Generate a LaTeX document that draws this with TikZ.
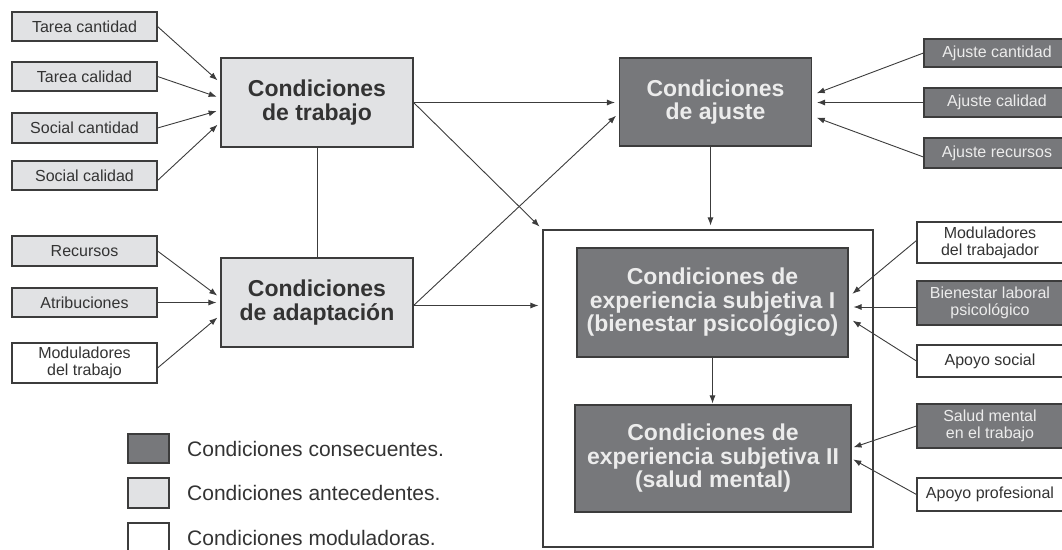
\documentclass[tikz,border=0pt]{standalone}
\usepackage{fontspec}
\setmainfont{Liberation Sans}
\usetikzlibrary{arrows.meta}

\begin{document}
\begin{tikzpicture}[x=1pt, y=-1pt,
  box/.style={draw=linegray, line width=1.1pt, inner sep=0pt, align=center},
  antbox/.style={box, fill=antgray, text=textgray},
  conbox/.style={box, fill=congray, text=textlight},
  modbox/.style={box, fill=white, text=textgray},
  small/.style={font=\fontsize{16}{17}\selectfont},
  big/.style={font=\bfseries\fontsize{23}{23.5}\selectfont},
  legend/.style={anchor=west, inner sep=0pt, text=textgray, font=\fontsize{21}{22}\selectfont},
  arr/.style={-{Latex[length=8pt,width=6pt]}, line width=0.9pt, draw=linegray, shorten >=4pt}]

% Define greys
\definecolor{linegray}{RGB}{60,60,60}
\definecolor{antgray}{RGB}{225,226,228}
\definecolor{congray}{RGB}{119,120,123}
\definecolor{textgray}{RGB}{51,51,51}
\definecolor{textlight}{RGB}{236,236,236}

% Canvas
\useasboundingbox (0,0) rectangle (1062,549);
\clip (0,0) rectangle (1062,549);

% Antecedent inputs (left)
\node[antbox, small, minimum width=145pt, minimum height=29pt] (tareacant) at (84.5,26.5) {Tarea cantidad};
\node[antbox, small, minimum width=145pt, minimum height=29pt] (tareacal) at (84.5,76.5) {Tarea calidad};
\node[antbox, small, minimum width=145pt, minimum height=30pt] (socialcant) at (84.5,128) {Social cantidad};
\node[antbox, small, minimum width=145pt, minimum height=29pt] (socialcal) at (84.5,175.5) {Social calidad};
\node[antbox, small, minimum width=145pt, minimum height=30pt] (recursos) at (84.5,251) {Recursos};
\node[antbox, small, minimum width=145pt, minimum height=29pt] (atrib) at (84.5,302.5) {Atribuciones};
\node[modbox, small, minimum width=145pt, minimum height=40pt] (modtrabajo) at (84.5,363) {Moduladores\\del trabajo};

% Antecedent conditions
\node[antbox, big, minimum width=192pt, minimum height=89pt] (trabajo) at (317,102.5) {Condiciones\\de trabajo};
\node[antbox, big, minimum width=192pt, minimum height=89pt] (adaptacion) at (317,302.5) {Condiciones\\de adaptación};

% Consequent conditions
\node[conbox, big, minimum width=192pt, minimum height=88pt] (ajuste) at (715.5,102) {Condiciones\\de ajuste};
\node[modbox, minimum width=330pt, minimum height=317pt] (marco) at (708,388.5) {};
\node[conbox, big, minimum width=271pt, minimum height=109pt] (expuno) at (712.5,302.5) {Condiciones de\\experiencia subjetiva I\\(bienestar psicológico)};
\node[conbox, big, minimum width=276pt, minimum height=107pt] (expdos) at (713,458.5) {Condiciones de\\experiencia subjetiva II\\(salud mental)};

% Inputs of ajuste (right)
\node[conbox, small, minimum width=146pt, minimum height=28pt] (ajcant) at (997,53) {Ajuste cantidad};
\node[conbox, small, minimum width=146pt, minimum height=29pt] (ajcal) at (997,102.5) {Ajuste calidad};
\node[conbox, small, minimum width=146pt, minimum height=30pt] (ajrec) at (997,153) {Ajuste recursos};

% Inputs of experiencia subjetiva (right)
\node[modbox, small, minimum width=146pt, minimum height=41pt] (modtrabajador) at (990,242.5) {Moduladores\\del trabajador};
\node[conbox, small, minimum width=146pt, minimum height=44pt] (bienestar) at (990,303) {Bienestar laboral\\psicológico};
\node[modbox, small, minimum width=146pt, minimum height=32pt] (apsoc) at (990,361) {Apoyo social};
\node[conbox, small, minimum width=146pt, minimum height=44pt] (salud) at (990,426) {Salud mental\\en el trabajo};
\node[modbox, small, minimum width=146pt, minimum height=33pt] (approf) at (990,494.5) {Apoyo profesional};

% Legend
\node[conbox, minimum width=41pt, minimum height=29pt] (leycon) at (148.5,448.5) {};
\node[antbox, minimum width=41pt, minimum height=30pt] (leyant) at (148.5,493) {};
\node[modbox, minimum width=41pt, minimum height=30pt] (leymod) at (148.5,538) {};
\node[legend] (leycontxt) at (187,448.5) {Condiciones consecuentes.};
\node[legend] (leyanttxt) at (187,493) {Condiciones antecedentes.};
\node[legend] (leymodtxt) at (187,538) {Condiciones moduladoras.};

% Arrows into trabajo
\draw[arr] (tareacant.east) -- ([yshift=19.5pt]trabajo.west);
\draw[arr] (tareacal.east) -- ([yshift=4.5pt]trabajo.west);
\draw[arr] (socialcant.east) -- ([yshift=-7.5pt]trabajo.west);
\draw[arr] ([yshift=-5pt]socialcal.east) -- ([yshift=-19.5pt]trabajo.west);

% Arrows into adaptacion
\draw[arr] (recursos.east) -- ([yshift=4.5pt]adaptacion.west);
\draw[arr] (atrib.east) -- (atrib.east -| adaptacion.west);
\draw[arr] ([yshift=-5pt]modtrabajo.east) -- ([yshift=-12.5pt]adaptacion.west);

% Link between antecedents
\draw[line width=0.9pt, linegray] (trabajo.south) -- (adaptacion.north);

% Antecedents to consequents
\draw[arr] (trabajo.east) -- (trabajo.east -| ajuste.west);
\draw[arr] (trabajo.east) -- (marco.north west);
\draw[arr] ([yshift=-3pt]adaptacion.east) -- ([yshift=-11pt]ajuste.west);
\draw[arr] ([yshift=-3pt]adaptacion.east) -- ([yshift=-3pt]adaptacion.east -| marco.west);

% Ajuste to experiencia subjetiva
\draw[arr] ([xshift=-5pt]ajuste.south) -- ([xshift=-5pt]ajuste.south |- marco.north);
\draw[arr, shorten >=1pt] (expuno.south) -- (expuno.south |- expdos.north);

% Arrows into ajuste
\draw[arr, shorten >=5pt] (ajcant.west) -- ([yshift=7pt]ajuste.east);
\draw[arr, shorten >=5pt] (ajcal.west) -- (ajcal.west -| ajuste.east);
\draw[arr, shorten >=5pt] ([yshift=-4pt]ajrec.west) -- ([yshift=-14pt]ajuste.east);

% Arrows into experiencia subjetiva I and II
\draw[arr, shorten >=5pt] ([yshift=2pt]modtrabajador.west) -- ([yshift=5.5pt]expuno.east);
\draw[arr, shorten >=5pt] ([yshift=-4pt]bienestar.west) -- ([yshift=-4pt]bienestar.west -| expuno.east);
\draw[arr, shorten >=5pt] (apsoc.west) -- ([yshift=-15.5pt]expuno.east);
\draw[arr, shorten >=2pt] (salud.west) -- ([yshift=10.5pt]expdos.east);
\draw[arr, shorten >=2pt] (approf.west) -- (expdos.east);

\end{tikzpicture}
\end{document}
